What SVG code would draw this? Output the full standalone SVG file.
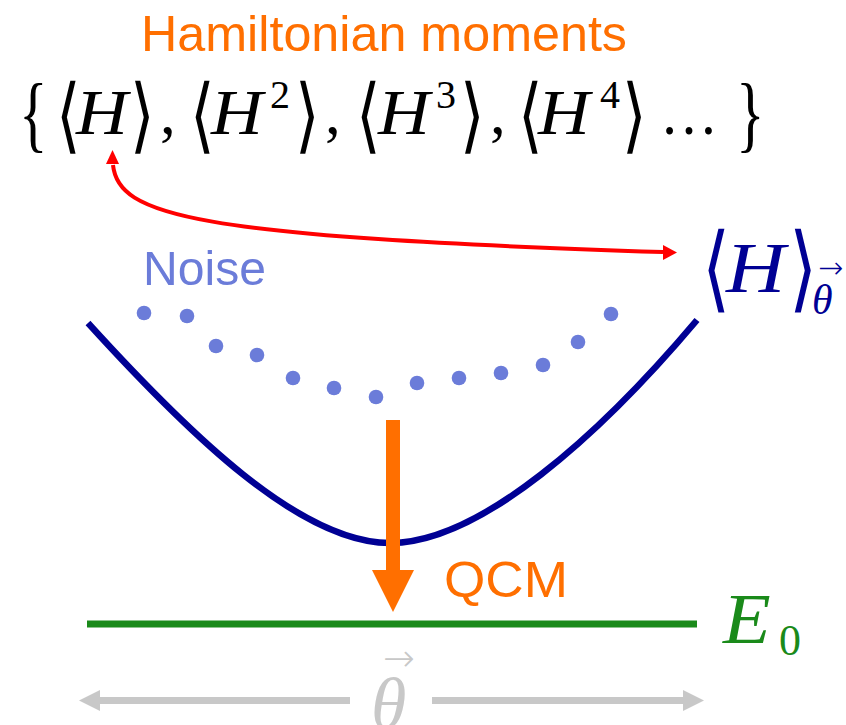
<svg xmlns="http://www.w3.org/2000/svg" width="846" height="725" viewBox="0 0 846 725">
<defs>
<style>
.sans{font-family:"Liberation Sans","DejaVu Sans",sans-serif;}
.ser{font-family:"Liberation Serif","DejaVu Serif",serif;}
.it{font-family:"Liberation Serif","DejaVu Serif",serif;font-style:italic;}
.br{font-family:"DejaVu Sans","Noto Sans",sans-serif;font-weight:200;}
.blk{fill:#000;}
.dot{fill:#6b7cd9;}
</style>
</defs>
<rect width="846" height="725" fill="#fff"/>

<g id="title">
<text class="sans" x="141" y="51" font-size="50" fill="#ff6f00" textLength="486" lengthAdjust="spacingAndGlyphs">Hamiltonian moments</text>
</g>

<g id="moments" class="blk">
<text class="ser" transform="translate(19,142) scale(0.7,1)" font-size="85">{</text>
<text class="br" transform="translate(56,142.6) scale(1,1.3)" font-size="63">⟨</text>
<text class="it" transform="translate(76,134) scale(1.12,1)" font-size="64">H</text>
<text class="br" transform="translate(130,142.6) scale(1,1.3)" font-size="63">⟩</text>
<text class="ser" x="160" y="134" font-size="63">,</text>
<text class="br" transform="translate(190,142.6) scale(1,1.3)" font-size="63">⟨</text>
<text class="it" transform="translate(211,134) scale(1.12,1)" font-size="64">H</text>
<text class="ser" x="270" y="108" font-size="40">2</text>
<text class="br" transform="translate(295,142.6) scale(1,1.3)" font-size="63">⟩</text>
<text class="ser" x="325" y="134" font-size="63">,</text>
<text class="br" transform="translate(356,142.6) scale(1,1.3)" font-size="63">⟨</text>
<text class="it" transform="translate(378,134) scale(1.12,1)" font-size="64">H</text>
<text class="ser" x="436" y="108" font-size="40">3</text>
<text class="br" transform="translate(460,142.6) scale(1,1.3)" font-size="63">⟩</text>
<text class="ser" x="490" y="134" font-size="63">,</text>
<text class="br" transform="translate(518,142.6) scale(1,1.3)" font-size="63">⟨</text>
<text class="it" transform="translate(538,134) scale(1.12,1)" font-size="64">H</text>
<text class="ser" x="600" y="108" font-size="40">4</text>
<text class="br" transform="translate(622,142.6) scale(1,1.3)" font-size="63">⟩</text>
<text class="ser" x="660" y="134" font-size="63" textLength="58" lengthAdjust="spacingAndGlyphs">…</text>
<text class="ser" transform="translate(736,142) scale(0.7,1)" font-size="85">}</text>
</g>

<g id="noise">
<text class="sans" x="143" y="285" font-size="49" fill="#6b7cd9" textLength="123" lengthAdjust="spacingAndGlyphs">Noise</text>
<circle class="dot" cx="144" cy="313" r="7.3"/>
<circle class="dot" cx="187" cy="316" r="7.3"/>
<circle class="dot" cx="216" cy="346" r="7.3"/>
<circle class="dot" cx="257" cy="355" r="7.3"/>
<circle class="dot" cx="293" cy="378" r="7.3"/>
<circle class="dot" cx="334" cy="388" r="7.3"/>
<circle class="dot" cx="376" cy="397" r="7.3"/>
<circle class="dot" cx="417" cy="383" r="7.3"/>
<circle class="dot" cx="459" cy="378" r="7.3"/>
<circle class="dot" cx="501" cy="373" r="7.3"/>
<circle class="dot" cx="543" cy="365" r="7.3"/>
<circle class="dot" cx="578" cy="342" r="7.3"/>
<circle class="dot" cx="611" cy="314" r="7.3"/>
</g>

<g id="energy-curve">
<path d="M88,323 C188,433 300,543 390,543 C480,543 600,435 697,320" fill="none" stroke="#000094" stroke-width="6.5"/>
<text class="br" transform="translate(702,300.4) scale(1,1.3)" font-size="72" fill="#000094">⟨</text>
<text class="it" transform="translate(726,292) scale(1.14,1)" font-size="72" fill="#000094">H</text>
<text class="br" transform="translate(789,300.4) scale(1,1.3)" font-size="72" fill="#000094">⟩</text>
<text class="it" x="812" y="314" font-size="42" fill="#000094">θ</text>
<text class="br" x="818" y="278" font-size="30" fill="#000094">→</text>
</g>

<g id="ground-energy">
<line x1="87" y1="624" x2="697" y2="624" stroke="#1a8a1a" stroke-width="7"/>
<text class="it" transform="translate(723,643) scale(1.1,1)" font-size="71" fill="#1a8a1a">E</text>
<text class="ser" x="779" y="655" font-size="44" fill="#1a8a1a">0</text>
</g>

<g id="qcm">
<text class="sans" x="444" y="597" font-size="50" fill="#ff6f00" textLength="124" lengthAdjust="spacingAndGlyphs">QCM</text>
</g>

<g id="theta-axis">
<text class="it" x="371" y="728" font-size="72" fill="#c8c8c8">θ</text>
<text class="br" x="383" y="671" font-size="38" fill="#c8c8c8">→</text>
</g>

<g id="connectors">
<path d="M113,165 C118,215 190,237 663,252" fill="none" stroke="#ff0000" stroke-width="4"/>
<path d="M106,164 L112.5,150 L119,164 Z" fill="#ff0000"/>
<path d="M663,245 L677,252.5 L663,260 Z" fill="#ff0000"/>
<rect x="386" y="420" width="14" height="151" fill="#ff6f00"/>
<path d="M372,570 L414,570 L393,612 Z" fill="#ff6f00"/>
<line x1="98" y1="700.5" x2="350" y2="700.5" stroke="#c8c8c8" stroke-width="7"/>
<path d="M100,690 L79,700.5 L100,711 Z" fill="#c8c8c8"/>
<line x1="432" y1="700.5" x2="685" y2="700.5" stroke="#c8c8c8" stroke-width="7"/>
<path d="M683,690 L704,700.5 L683,711 Z" fill="#c8c8c8"/>
</g>
</svg>
